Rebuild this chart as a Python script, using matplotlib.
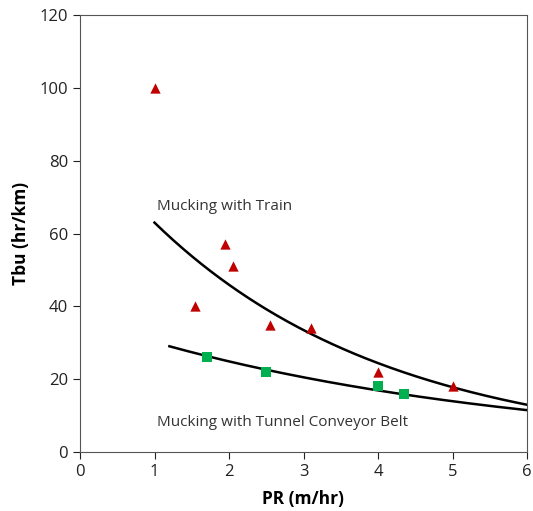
import numpy as np
import matplotlib.pyplot as plt
from matplotlib import rcParams

rcParams["font.family"] = ["Open Sans", "DejaVu Sans"]

# data
train_pr = [1.0, 1.55, 1.95, 2.05, 2.55, 3.1, 4.0, 5.0]
train_tbu = [100, 40, 57, 51, 35, 34, 22, 18]
belt_pr = [1.7, 2.5, 4.0, 4.35]
belt_tbu = [26, 22, 18, 16]

# exponential trend lines (y = a*exp(-k*x)), coefficients
train_a, train_k, train_range = 86.4, 0.316, (1.0, 6.0)
belt_a, belt_k, belt_range = 36.6, 0.193, (1.2, 6.0)

RED = "#c00000"
GREEN = "#00b050"

fig = plt.figure(figsize=(5.33, 5.11), dpi=100)
ax = fig.add_axes([80/533, 1 - 452/511, 447/533, 437/511])

for a, k, (x0, x1) in [(train_a, train_k, train_range), (belt_a, belt_k, belt_range)]:
    xs = np.linspace(x0, x1, 200)
    ax.plot(xs, a*np.exp(-k*xs), color="black", lw=1.8, zorder=2)

ax.scatter(train_pr, train_tbu, marker="^", s=55, color=RED, zorder=3, linewidths=0)
ax.scatter(belt_pr, belt_tbu, marker="s", s=50, color=GREEN, zorder=3, linewidths=0)

ax.text(1.03, 67.3, "Mucking with Train", fontsize=11, color="#333", va="center")
ax.text(1.03, 8.2, "Mucking with Tunnel Conveyor Belt", fontsize=11, color="#333", va="center")

ax.set_xlim(0, 6)
ax.set_ylim(0, 120)
ax.set_xticks(range(0, 7))
ax.set_yticks(range(0, 121, 20))
ax.tick_params(direction="out", length=5, labelsize=12, colors="#222")
for s in ax.spines.values():
    s.set_color("#555")
ax.set_xlabel("PR (m/hr)", fontsize=12.5, fontweight="bold", labelpad=7)
ax.set_ylabel("Tbu (hr/km)", fontsize=12.5, fontweight="bold", labelpad=7)

fig.savefig("out.png", dpi=100, facecolor="white")
